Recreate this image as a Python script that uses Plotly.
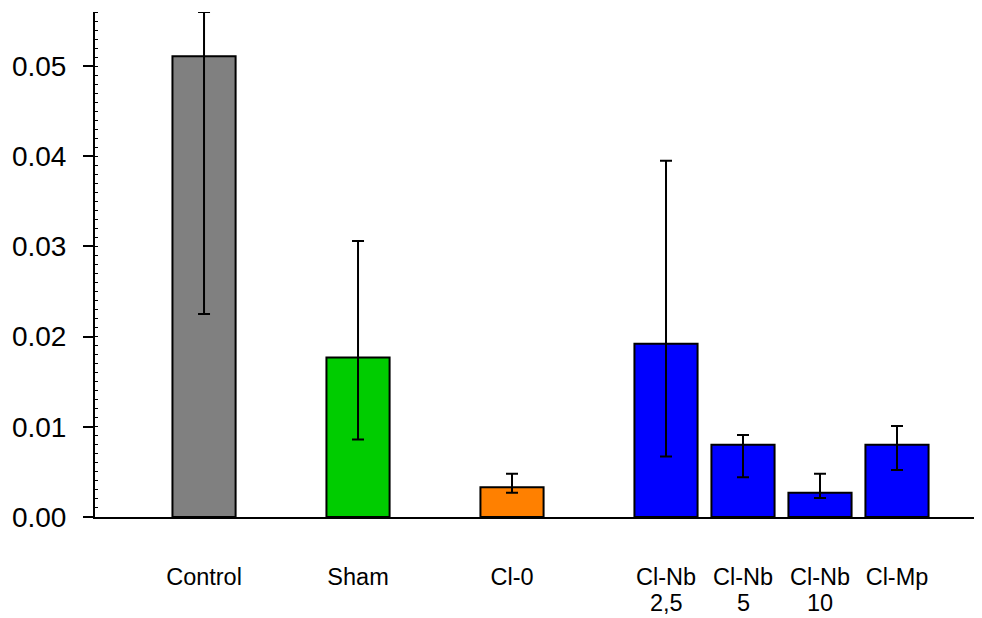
import plotly.graph_objects as go

# ---- data ----
categories = ["Control", "Sham", "Cl-0", "Cl-Nb 2,5", "Cl-Nb 5", "Cl-Nb 10", "Cl-Mp"]
label_line1 = ["Control", "Sham", "Cl-0", "Cl-Nb", "Cl-Nb", "Cl-Nb", "Cl-Mp"]
label_line2 = ["", "", "", "2,5", "5", "10", ""]
positions = [0, 2, 4, 6, 7, 8, 9]
means = [0.0511, 0.0177, 0.0033, 0.0192, 0.0080, 0.0027, 0.0080]
upper = [0.0560, 0.0306, 0.0048, 0.0395, 0.0091, 0.0048, 0.0101]
lower = [0.0225, 0.0086, 0.0027, 0.0067, 0.0044, 0.0021, 0.0052]
colors = ["#808080", "#00CC00", "#FF8000", "#0000FF", "#0000FF", "#0000FF", "#0000FF"]
y_ticks = [0.00, 0.01, 0.02, 0.03, 0.04, 0.05]

err_plus = [u - m for u, m in zip(upper, means)]
err_minus = [m - l for m, l in zip(means, lower)]

font_family = "Arial, Liberation Sans, sans-serif"
xfont = dict(size=23.5, family=font_family, color="black")

fig = go.Figure()
fig.add_trace(go.Bar(
    x=positions,
    y=means,
    width=0.82,
    marker=dict(color=colors, line=dict(color="black", width=2)),
    error_y=dict(type="data", symmetric=False, array=err_plus, arrayminus=err_minus,
                 color="black", thickness=2, width=6),
    hovertext=categories,
    showlegend=False,
))

for xp, txt in zip(positions, label_line2):
    if txt:
        fig.add_annotation(x=xp, xref="x", y=0, yref="paper", text=txt,
                           showarrow=False, yanchor="middle", xanchor="center",
                           yshift=-86, font=xfont)

# the page body adds an 8 px offset, so the figure is sized to fit the window
fig.update_layout(
    width=974, height=610,
    margin=dict(l=87, r=0, t=4, b=101),
    paper_bgcolor="white", plot_bgcolor="white",
    font=dict(family=font_family, color="black"),
    xaxis=dict(
        range=[-1.416, 10.104],
        tickvals=positions, ticktext=label_line1,
        showline=True, linecolor="black", linewidth=2,
        ticks="", showgrid=False, zeroline=False,
        tickfont=xfont,
        ticklabelstandoff=38,
        automargin=False,
    ),
    yaxis=dict(
        range=[0, 0.0560],
        tickvals=y_ticks, ticktext=[f"{v:.2f}" for v in y_ticks],
        showline=True, linecolor="black", linewidth=2,
        ticks="outside", ticklen=10, tickwidth=2, tickcolor="black",
        showgrid=False, zeroline=False,
        tickfont=dict(size=28, family=font_family, color="black"),
        ticklabelstandoff=11,
        automargin=False,
        minor=dict(dtick=0.001, ticks="inside", ticklen=3, tickwidth=1, tickcolor="black", showgrid=False),
    ),
)

fig.write_html("out.html")
